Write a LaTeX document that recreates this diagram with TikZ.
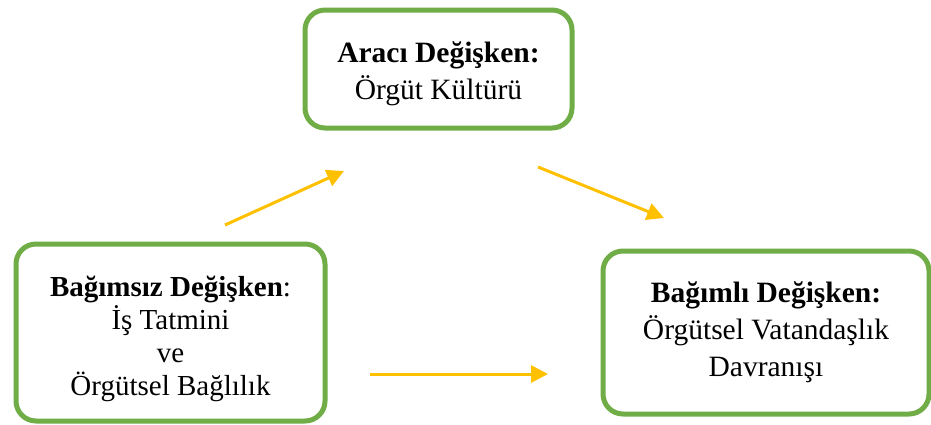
\documentclass[tikz,border=0pt]{standalone}
\usepackage{fontspec}
\setmainfont{Liberation Serif}
\usetikzlibrary{arrows.meta}
\definecolor{boxgreen}{HTML}{70AD47}
\definecolor{arrowgold}{HTML}{FFC000}
\begin{document}
\begin{tikzpicture}[x=1pt,y=-1pt,
  varbox/.style={draw=boxgreen,line width=5pt,rounded corners=20pt,fill=white,
    align=center,inner sep=0pt,anchor=north west},
  link/.style={draw=arrowgold,line width=3pt,-{Triangle[length=17pt,width=17pt]}}]
\useasboundingbox[fill=white] (0,0) rectangle (931,424);
\node[varbox,minimum width=267pt,minimum height=118pt,
  font=\fontsize{29.5}{37}\selectfont] (arac) at (302.5,7.5)
  {\rule{0pt}{30pt}\textbf{Aracı Değişken:}\\Örgüt Kültürü};
\node[varbox,minimum width=309pt,minimum height=177pt,
  font=\fontsize{29}{33}\selectfont] (bagimsiz) at (13.5,241.5)
  {\rule{0pt}{34pt}\textbf{Bağımsız Değişken}:\\İş Tatmini\\ve\\Örgütsel Bağlılık};
\node[varbox,minimum width=326pt,minimum height=163pt,
  font=\fontsize{29.5}{37}\selectfont] (bagimli) at (600.5,248.5)
  {\textbf{Bağımlı Değişken:}\\Örgütsel Vatandaşlık\\Davranışı};
\coordinate (s1) at (225,225);
\coordinate (e1) at (344,171);
\coordinate (s2) at (538,167);
\coordinate (e2) at (664,218);
\coordinate (s3) at (370,374);
\coordinate (e3) at (548,374);
\draw[link] (s1) -- (e1);
\draw[link] (s2) -- (e2);
\draw[link] (s3) -- (e3);
\end{tikzpicture}
\end{document}
